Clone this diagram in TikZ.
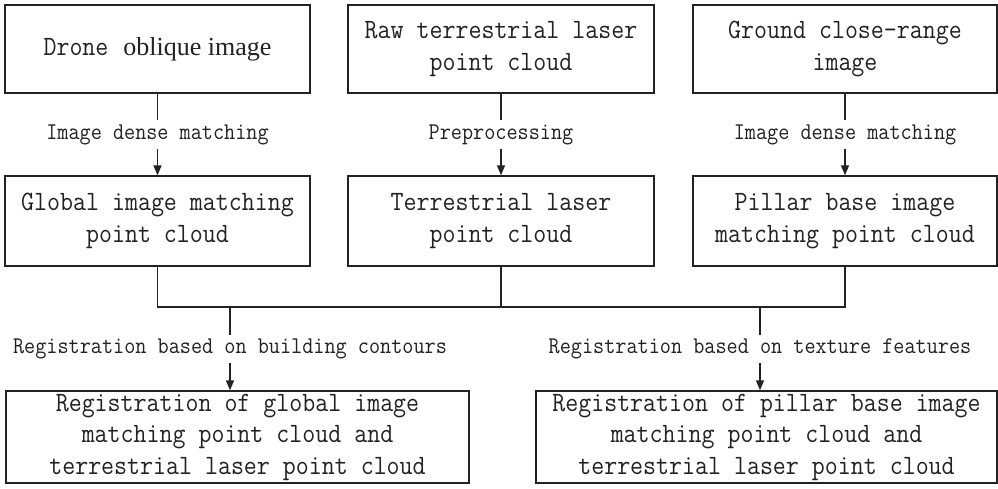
\documentclass[tikz,border=0pt]{standalone}
\usepackage{fontspec}
\usetikzlibrary{arrows.meta}
\newfontfamily\monofnt[FakeStretch=0.9]{Latin Modern Mono}
\newfontfamily\seriffnt{Liberation Serif}
\definecolor{ink}{HTML}{222222}
\begin{document}
\begin{tikzpicture}[x=1pt,y=-1pt,
  box/.style={draw=ink,line width=1.4pt,rectangle,inner sep=0pt,align=center,
    font=\monofnt\fontsize{28}{31.5}\selectfont,text=ink},
  lbl/.style={fill=white,inner xsep=2pt,inner ysep=4pt,
    font=\monofnt\fontsize{24}{26}\selectfont,text=ink},
  conn/.style={draw=ink,line width=1.4pt},
  arr/.style={conn,-{Triangle[length=10pt,width=8pt]}}]
\useasboundingbox (0,0) rectangle (998,488);
\node[box,minimum width=305pt,minimum height=88pt] (b1) at (157.5,49)
  {Drone\hspace{15pt}{\seriffnt\fontsize{26}{31}\selectfont oblique image}};
\node[box,minimum width=306pt,minimum height=88pt] (b2) at (501,49)
  {Raw terrestrial laser\\point cloud};
\node[box,minimum width=304pt,minimum height=88pt] (b3) at (845,49)
  {Ground close-range\\image};
\node[box,minimum width=305pt,minimum height=90pt] (b4) at (157.5,221)
  {Global image matching\\point cloud};
\node[box,minimum width=306pt,minimum height=90pt] (b5) at (501,221)
  {Terrestrial laser\\point cloud};
\node[box,minimum width=304pt,minimum height=90pt] (b6) at (845,221)
  {Pillar base image\\matching point cloud};
\node[box,minimum width=463pt,minimum height=92pt] (b7) at (237.5,437)
  {Registration of global image\\matching point cloud and\\terrestrial laser point cloud};
\node[box,minimum width=461pt,minimum height=92pt] (b8) at (766.5,437)
  {Registration of pillar base image\\matching point cloud and\\terrestrial laser point cloud};
\draw[arr] (b1.south) -- (b4.north) node[lbl,midway] (l1) {Image dense matching};
\draw[arr] (b2.south) -- (b5.north) node[lbl,midway] (l2) {Preprocessing};
\draw[arr] (b3.south) -- (b6.north) node[lbl,midway] (l3) {Image dense matching};
\coordinate (hl) at (0,307);
\draw[conn] (b4.south) -- (b4.south |- hl) -- (b6.south |- hl) -- (b6.south);
\draw[conn] (b5.south) -- (b5.south |- hl);
\coordinate (s1) at (230,307);
\coordinate (s2) at (760,307);
\draw[arr] (s1) -- (s1 |- b7.north) node[lbl,midway] (l4) {Registration based on building contours};
\draw[arr] (s2) -- (s2 |- b8.north) node[lbl,midway] (l5) {Registration based on texture features};
\end{tikzpicture}
\end{document}
